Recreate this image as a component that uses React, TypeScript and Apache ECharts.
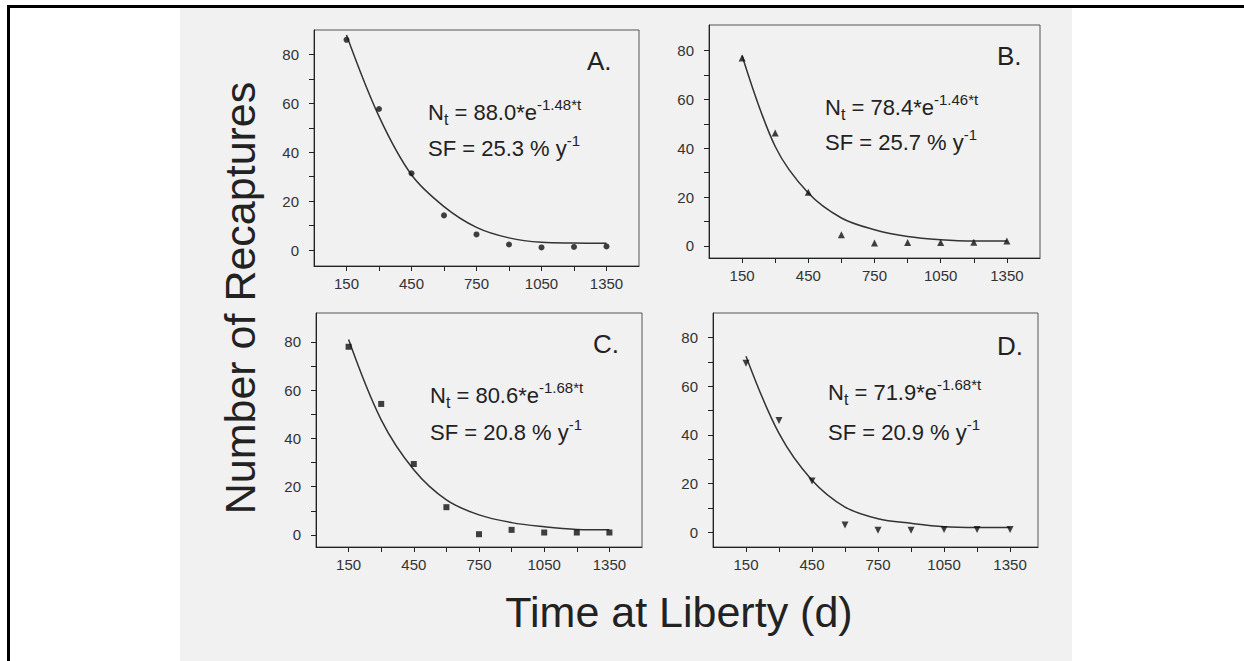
import React, { useEffect, useRef } from "react";
import * as echarts from "echarts";

// ---- data ----
const days = [150, 300, 450, 600, 750, 900, 1050, 1200, 1350];

const recapA = [86, 57.7, 31.4, 14.2, 6.4, 2.3, 1.1, 1.3, 1.5];
const fitA = [88, 54.7, 30.8, 17.8, 9.3, 5.0, 3.2, 2.9, 2.8];

const recapB = [77, 46.2, 22, 4.5, 1.1, 1.4, 1.4, 1.5, 2.0];
const fitB = [78, 40.7, 21.6, 11.4, 6.6, 3.8, 2.5, 2.0, 2.0];

const recapC = [78, 54.3, 29.4, 11.5, 0.3, 2.1, 1.0, 1.0, 1.0];
const fitC = [81, 47.7, 27, 14.5, 8.3, 5.1, 3.4, 2.3, 2.1];

const recapD = [69.4, 45.9, 21.1, 3.0, 0.9, 0.9, 1.2, 1.2, 1.2];
const fitD = [72.3, 40.6, 21.4, 10.4, 5.6, 3.7, 2.3, 2.0, 2.0];

const xTickValues = [150, 300, 450, 600, 750, 900, 1050, 1200, 1350];
const xLabelValues = [150, 450, 750, 1050, 1350];
const yTickValues = [0, 10, 20, 30, 40, 50, 60, 70, 80];
const yLabelValues = [0, 20, 40, 60, 80];

const panelLetters = ["A.", "B.", "C.", "D."];
const eqCoef = ["88.0", "78.4", "80.6", "71.9"];
const eqRate = ["-1.48*t", "-1.46*t", "-1.68*t", "-1.68*t"];
const sfValues = ["25.3", "25.7", "20.8", "20.9"];

const yTitle = "Number of Recaptures";
const xTitle = "Time at Liberty (d)";

const FONT = "'Liberation Sans', Arial, Helvetica, sans-serif";
const INK = "#222";

const panels = [
  { recap: recapA, fit: fitA, grid: { left: 314, top: 30, width: 325, height: 236 }, xMax: 1500, yMin: -6.5, yMax: 90, symbol: "circle", size: 6, rot: 0, letter: [587, 61], eq: [428, 97, 133] },
  { recap: recapB, fit: fitB, grid: { left: 709, top: 25, width: 331, height: 233 }, xMax: 1500, yMin: -5, yMax: 90.5, symbol: "triangle", size: 7, rot: 0, letter: [997, 56], eq: [825, 92, 127] },
  { recap: recapC, fit: fitC, grid: { left: 316, top: 313, width: 326, height: 234 }, xMax: 1500, yMin: -5, yMax: 92, symbol: "rect", size: 6, rot: 0, letter: [593, 344], eq: [430, 380, 417] },
  { recap: recapD, fit: fitD, grid: { left: 713, top: 313, width: 325, height: 234 }, xMax: 1477, yMin: -6, yMax: 90, symbol: "triangle", size: 7, rot: 180, letter: [997, 346], eq: [828, 377, 417] },
];

const richEq = {
  n: { fontSize: 22, lineHeight: 30, fontFamily: FONT, fill: INK },
  m: { fontSize: 22, lineHeight: 30, fontFamily: FONT, fill: INK },
  sub: { fontSize: 16, lineHeight: 6, verticalAlign: "bottom", fontFamily: FONT, fill: INK },
  sup: { fontSize: 15, lineHeight: 19, verticalAlign: "top", fontFamily: FONT, fill: INK },
};

function buildOption() {
  const grid: any[] = [];
  const xAxis: any[] = [];
  const yAxis: any[] = [];
  const series: any[] = [];
  const graphic: any[] = [
    { type: "rect", z: -100, shape: { x: 180, y: 8, width: 892, height: 653 }, style: { fill: "#f1f1f1" } },
    { type: "rect", z: 100, shape: { x: 7, y: 5, width: 1237, height: 3 }, style: { fill: "#000" } },
    { type: "rect", z: 100, shape: { x: 7, y: 5, width: 3, height: 656 }, style: { fill: "#000" } },
    {
      type: "text", z: 100, x: 240, y: 298, rotation: Math.PI / 2,
      style: { text: yTitle, fontSize: 43, fontFamily: FONT, fill: INK, align: "center", verticalAlign: "middle" },
    },
    {
      type: "text", z: 100, x: 679, y: 612,
      style: { text: xTitle, fontSize: 43, fontFamily: FONT, fill: INK, align: "center", verticalAlign: "middle" },
    },
  ];

  panels.forEach((p, i) => {
    grid.push({ ...p.grid, show: true, borderColor: "#555", borderWidth: 1, backgroundColor: "transparent" });
    xAxis.push({
      type: "value", gridIndex: i, min: 0, max: p.xMax,
      axisLine: { show: true, onZero: false, lineStyle: { color: INK, width: 1 } },
      axisTick: { show: true, length: 5, customValues: xTickValues, lineStyle: { color: INK } },
      axisLabel: {
        customValues: xLabelValues, margin: 10, fontSize: 15, color: "#333", fontFamily: FONT,
        formatter: (v: number) => String(v),
      },
      splitLine: { show: false },
    });
    yAxis.push({
      type: "value", gridIndex: i, min: p.yMin, max: p.yMax,
      axisLine: { show: true, onZero: false, lineStyle: { color: INK, width: 1 } },
      axisTick: { show: true, length: 5, customValues: yTickValues, lineStyle: { color: INK } },
      axisLabel: {
        customValues: yLabelValues, margin: 15, fontSize: 15, color: "#333", fontFamily: FONT,
        formatter: (v: number) => String(v),
      },
      splitLine: { show: false },
    });
    series.push({
      type: "line", xAxisIndex: i, yAxisIndex: i, smooth: 0.35, showSymbol: false,
      lineStyle: { color: "#333", width: 1.5 },
      data: days.map((d, k) => [d, p.fit[k]]),
      z: 3,
    });
    series.push({
      type: "scatter", xAxisIndex: i, yAxisIndex: i, symbol: p.symbol, symbolSize: p.size, symbolRotate: p.rot,
      itemStyle: { color: "#111" },
      data: days.map((d, k) => [d, p.recap[k]]),
      z: 4,
    });
    graphic.push({
      type: "text", z: 100, x: p.letter[0], y: p.letter[1],
      style: { text: panelLetters[i], fontSize: 26, fontFamily: FONT, fill: INK, align: "left", verticalAlign: "middle" },
    });
    graphic.push({
      type: "text", z: 100, x: p.eq[0], y: p.eq[1],
      style: {
        text: `{n|N}{sub|t}{m| = ${eqCoef[i]}*e}{sup|${eqRate[i]}}`,
        rich: richEq, align: "left", verticalAlign: "top", fontFamily: FONT, fill: INK,
      },
    });
    graphic.push({
      type: "text", z: 100, x: p.eq[0], y: p.eq[2],
      style: {
        text: `{m|SF = ${sfValues[i]} % y}{sup|-1}`,
        rich: richEq, align: "left", verticalAlign: "top", fontFamily: FONT, fill: INK,
      },
    });
  });

  return {
    animation: false,
    backgroundColor: "#ffffff",
    grid, xAxis, yAxis, series, graphic,
  };
}

export default function App() {
  const ref = useRef<HTMLDivElement | null>(null);
  useEffect(() => {
    if (!ref.current) return;
    const chart = echarts.init(ref.current, null, { renderer: "svg" });
    chart.setOption(buildOption() as any);
    return () => chart.dispose();
  }, []);
  return (
    <div
      ref={ref}
      style={{ position: "fixed", left: 0, top: 0, width: 1244, height: 661 }}
    />
  );
}
